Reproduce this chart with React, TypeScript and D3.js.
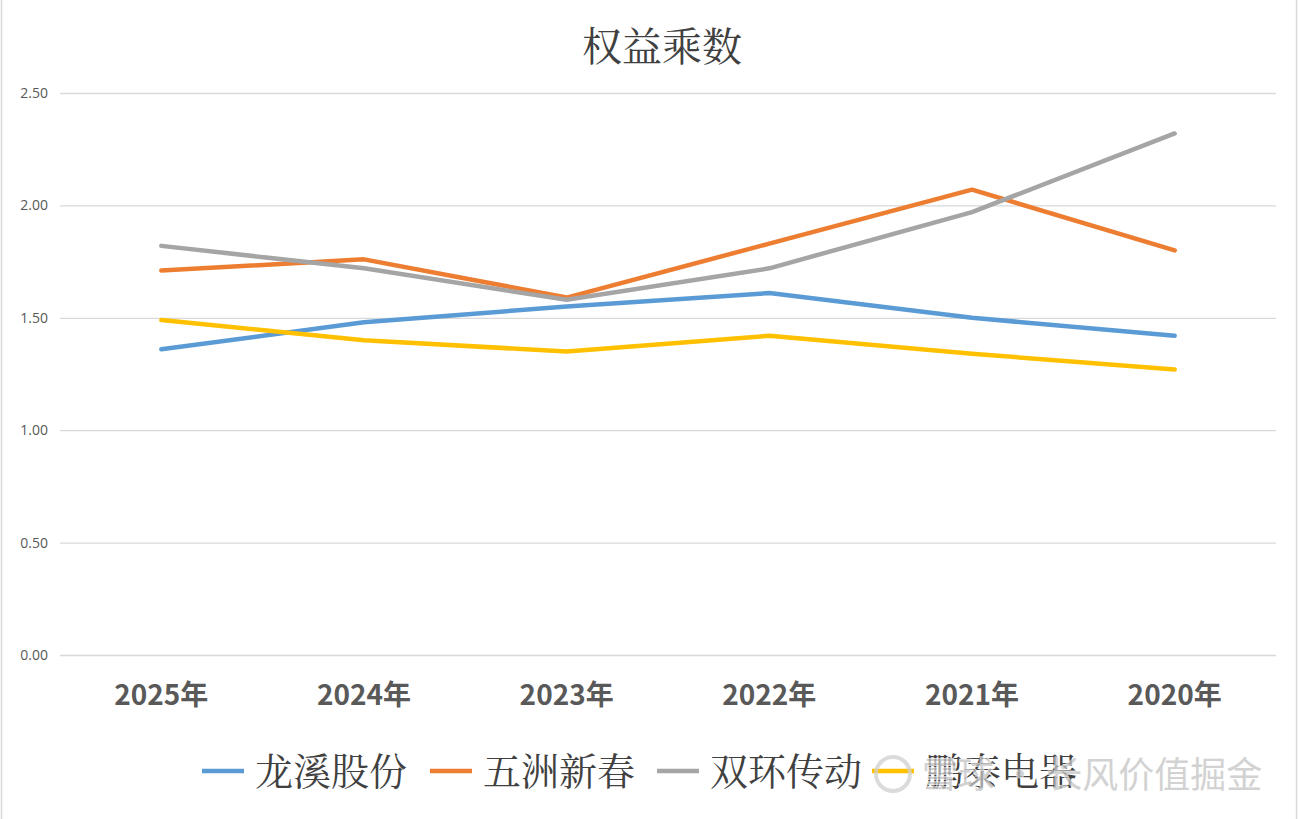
import { useEffect, useRef } from "react";
import * as d3 from "d3";

const title = "权益乘数";
const years = ["2025年", "2024年", "2023年", "2022年", "2021年", "2020年"];
const seriesNames = ["龙溪股份", "五洲新春", "双环传动", "鹏泰电器"];
const longxi = [1.36, 1.48, 1.55, 1.61, 1.5, 1.42];
const wuzhou = [1.71, 1.76, 1.59, 1.83, 2.07, 1.8];
const shuanghuan = [1.82, 1.72, 1.58, 1.72, 1.97, 2.32];
const pengtai = [1.49, 1.4, 1.35, 1.42, 1.34, 1.27];
const yTicks = [0, 0.5, 1, 1.5, 2, 2.5];
const colors = ["#5b9bd5", "#ed7d31", "#a5a5a5", "#ffc000"];
const watermark = "雪球 · 长风价值掘金";

const width = 1299;
const height = 819;
const marginTop = 93;
const marginBottom = 164;
const marginLeft = 60;
const marginRight = 23;

export default function App() {
  const ref = useRef<SVGSVGElement>(null);

  useEffect(() => {
    document.body.style.margin = "0";
    const svg = d3.select(ref.current);
    svg.selectAll("*").remove();

    svg
      .append("rect")
      .attr("x", 1.5)
      .attr("y", -2)
      .attr("width", width - 4)
      .attr("height", height + 4)
      .attr("fill", "white")
      .attr("stroke", "#d9d9d9")
      .attr("stroke-width", 1.5);

    const x = d3
      .scaleBand()
      .domain(years)
      .range([marginLeft, width - marginRight]);

    const y = d3
      .scaleLinear()
      .domain([0, 2.5])
      .range([height - marginBottom, marginTop]);

    // Title
    svg
      .append("text")
      .attr("x", 662)
      .attr("y", 61)
      .attr("text-anchor", "middle")
      .attr("font-family", "'Noto Serif CJK SC', 'Noto Sans CJK SC', serif")
      .attr("font-size", 40)
      .attr("fill", "#404040")
      .text(title);

    // Gridlines + y labels
    const yAxis = svg.append("g").attr("transform", `translate(${marginLeft},0)`);
    yAxis
      .call(
        d3
          .axisLeft(y)
          .tickValues(yTicks)
          .tickFormat((d) => d3.format(".2f")(d as number))
          .tickSize(-(width - marginLeft - marginRight))
          .tickPadding(12)
      )
      .call((g) => g.select(".domain").remove())
      .call((g) =>
        g.selectAll(".tick line").attr("stroke", "#d9d9d9").attr("stroke-width", 1.3)
      )
      .call((g) =>
        g
          .selectAll(".tick text")
          .attr("fill", "#595959")
          .attr("font-size", 14)
          .attr("font-family", "'Open Sans', 'DejaVu Sans', sans-serif")
      );

    // x labels
    svg
      .append("g")
      .selectAll("text")
      .data(years)
      .join("text")
      .attr("x", (d) => (x(d) as number) + x.bandwidth() / 2)
      .attr("y", 705)
      .attr("text-anchor", "middle")
      .attr("font-family", "'Liberation Sans Narrow', 'Noto Sans CJK SC', sans-serif")
      .attr("font-weight", "bold")
      .attr("font-size", 28)
      .attr("fill", "#595959")
      .text((d) => d);

    // Lines
    const allSeries = [longxi, wuzhou, shuanghuan, pengtai];
    const line = d3
      .line<number>()
      .x((_, i) => (x(years[i]) as number) + x.bandwidth() / 2)
      .y((d) => y(d));

    allSeries.forEach((values, i) => {
      svg
        .append("path")
        .attr("fill", "none")
        .attr("stroke", colors[i])
        .attr("stroke-width", 4.5)
        .attr("stroke-linejoin", "round")
        .attr("stroke-linecap", "round")
        .attr("d", line(values));
    });

    // Legend
    const legendX = [202, 430, 657, 872];
    const legend = svg.append("g");
    seriesNames.forEach((name, i) => {
      legend
        .append("line")
        .attr("x1", legendX[i])
        .attr("x2", legendX[i] + 42)
        .attr("y1", 771)
        .attr("y2", 771)
        .attr("stroke", colors[i])
        .attr("stroke-width", 4.5);
      legend
        .append("text")
        .attr("x", legendX[i] + 53)
        .attr("y", 785)
        .attr("font-family", "'Noto Serif CJK SC', 'Noto Sans CJK SC', serif")
        .attr("font-size", 38)
        .attr("fill", "#404040")
        .text(name);
    });

    // Watermark
    const wm = svg.append("g").attr("opacity", 0.75);
    wm.append("circle")
      .attr("cx", 893)
      .attr("cy", 774)
      .attr("r", 17)
      .attr("fill", "none")
      .attr("stroke", "#d0d0d0")
      .attr("stroke-width", 4);
    wm.append("text")
      .attr("x", 922)
      .attr("y", 788)
      .attr("font-family", "'Noto Sans CJK SC', sans-serif")
      .attr("font-size", 36)
      .attr("fill", "#c4c4c4")
      .attr("stroke", "white")
      .attr("stroke-width", 1.5)
      .attr("paint-order", "stroke")
      .text(watermark);
  }, []);

  return <svg ref={ref} width={width} height={height} style={{ display: "block" }} />;
}
